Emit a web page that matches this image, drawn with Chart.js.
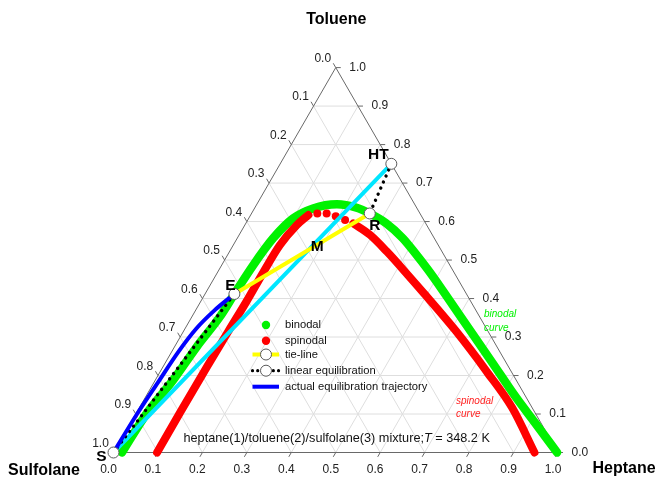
<!DOCTYPE html>
<html>
<head>
<meta charset="utf-8">
<script src="https://cdn.jsdelivr.net/npm/chart.js@4.4.0/dist/chart.umd.min.js"></script>
<style>
  html, body { margin: 0; padding: 0; background: #ffffff; }
  canvas { display: block; }
</style>
</head>
<body>
<canvas id="c" width="655" height="479"></canvas>
<script>
// Compositions are [x1 heptane, x2 toluene]; sulfolane x3 = 1 - x1 - x2.
const binodal = [
  [0.019, 0.000], [0.024, 0.102], [0.040, 0.188], [0.050, 0.275], [0.063, 0.353],
  [0.066, 0.412], [0.071, 0.487], [0.081, 0.557], [0.100, 0.608], [0.132, 0.634],
  [0.180, 0.645], [0.229, 0.636], [0.266, 0.621], [0.315, 0.596], [0.372, 0.557],
  [0.422, 0.516], [0.471, 0.474], [0.529, 0.422], [0.623, 0.336], [0.736, 0.233],
  [0.833, 0.144], [0.910, 0.077], [0.998, 0.000]
];
const spinodalLeft = [
  [0.098, 0.000], [0.098, 0.103], [0.099, 0.222], [0.101, 0.318], [0.103, 0.392],
  [0.103, 0.470], [0.105, 0.539], [0.117, 0.591], [0.130, 0.617]
];
const spinodalTop = [[0.148, 0.621], [0.169, 0.621], [0.193, 0.614], [0.219, 0.604]];
const spinodalRight = [
  [0.242, 0.595], [0.295, 0.565], [0.354, 0.522], [0.432, 0.461], [0.491, 0.414],
  [0.612, 0.316], [0.736, 0.209], [0.839, 0.116], [0.947, 0.000]
];
const trajectory = [
  [0.000, 0.000], [0.003, 0.100], [0.009, 0.183], [0.015, 0.261], [0.025, 0.321],
  [0.042, 0.368], [0.066, 0.412]
];
const pointS = [0.000, 0.000];
const pointE = [0.066, 0.412];
const pointM = [0.186, 0.527];
const pointR = [0.266, 0.621];
const pointHT = [0.250, 0.750];
const tickValues = [0, 0.1, 0.2, 0.3, 0.4, 0.5, 0.6, 0.7, 0.8, 0.9, 1.0];
const tickLabels = ['0.0', '0.1', '0.2', '0.3', '0.4', '0.5', '0.6', '0.7', '0.8', '0.9', '1.0'];
const componentNames = ['Heptane', 'Toluene', 'Sulfolane'];
const legendLabels = ['binodal', 'spinodal', 'tie-line', 'linear equilibration', 'actual equilibration trajectory'];

const H = Math.sqrt(3) / 2;
const toXY = p => ({ x: p[0] + p[1] / 2, y: p[1] * H });
const pts = arr => arr.map(toXY);
const GAP = () => ({ x: null, y: null });

// triangle grid: lines of constant toluene, heptane and sulfolane
const gridData = [];
for (let i = 1; i < 10; i++) {
  const v = tickValues[i];
  gridData.push(toXY([0, v]), toXY([1 - v, v]), GAP());
  gridData.push(toXY([v, 0]), toXY([v, 1 - v]), GAP());
  gridData.push(toXY([0, 1 - v]), toXY([1 - v, 0]), GAP());
}
const frameData = pts([[0, 0], [1, 0], [0, 1], [0, 0]]);

// tick marks, each drawn along its own grid direction outward
const TL = 5 / 444.5;
const tickData = [];
tickValues.forEach(v => {
  const l = toXY([0, 1 - v]);   // sulfolane axis
  tickData.push(l, { x: l.x - TL * 0.5, y: l.y + TL * H }, GAP());
  const r = toXY([1 - v, v]);   // toluene axis
  tickData.push(r, { x: r.x + TL, y: r.y }, GAP());
  const b = toXY([v, 0]);       // heptane axis
  tickData.push(b, { x: b.x - TL * 0.5, y: b.y - TL * H }, GAP());
});

const GREEN = 'rgb(0,242,0)';
const RED = 'rgb(255,0,0)';
const CYAN = 'rgb(0,230,255)';
const YELLOW = 'rgb(255,255,0)';
const BLUE = 'rgb(0,0,255)';

const lineDs = (label, data, color, width, order, extra) => Object.assign({
  label, data, showLine: true, borderColor: color, backgroundColor: color,
  borderWidth: width, pointRadius: 0, tension: 0, clip: false, order, fill: false,
  spanGaps: false, borderCapStyle: 'round', borderJoinStyle: 'round'
}, extra || {});
const smooth = { cubicInterpolationMode: 'monotone' };

const datasets = [
  lineDs('grid', gridData, 'rgb(222,222,222)', 1, 20, { borderCapStyle: 'butt' }),
  lineDs('frame', frameData, 'rgb(105,105,105)', 1, 19, { borderCapStyle: 'butt' }),
  lineDs('ticks', tickData, 'rgb(105,105,105)', 1, 19, { borderCapStyle: 'butt' }),
  lineDs('binodal', pts(binodal), GREEN, 8.5, 12, smooth),
  lineDs('spinodal', pts(spinodalLeft), RED, 8, 11, smooth),
  lineDs('spinodal ', pts(spinodalRight), RED, 8, 11, smooth),
  { label: 'spinodal points', data: pts(spinodalTop), showLine: false, pointRadius: 4,
    pointBorderWidth: 0, borderColor: RED, backgroundColor: RED, pointBackgroundColor: RED,
    clip: false, order: 11 },
  lineDs('mixing line', pts([pointS, pointHT]), CYAN, 4, 9),
  lineDs('tie-line', pts([pointE, pointR]), YELLOW, 4, 8),
  lineDs('linear equilibration', pts([pointS, pointE]), '#000', 3.4, 7, { borderDash: [0.01, 6.6] }),
  lineDs('linear equilibration ', pts([pointHT, pointR]), '#000', 3.4, 7, { borderDash: [0.01, 6.6] }),
  lineDs('actual equilibration trajectory', pts(trajectory), BLUE, 4, 6, smooth),
  { label: 'states', data: pts([pointS, pointE, pointR, pointHT]), showLine: false,
    pointRadius: 5.5, pointBackgroundColor: '#fff', pointBorderColor: 'rgb(90,90,90)',
    pointBorderWidth: 1, clip: false, order: 2 }
];

const FONT = '"Liberation Sans", Arial, sans-serif';

const decorations = {
  id: 'decorations',
  afterDatasetsDraw(chart) {
    const ctx = chart.ctx;
    const xs = chart.scales.x, ys = chart.scales.y;
    const pix = p => { const c = toXY(p); return [xs.getPixelForValue(c.x), ys.getPixelForValue(c.y)]; };
    ctx.save();

    // axis tick labels
    ctx.font = '12px ' + FONT;
    ctx.fillStyle = '#222';
    ctx.textBaseline = 'middle';
    tickValues.forEach((v, i) => {
      let [x, y] = pix([0, 1 - v]);
      ctx.textAlign = 'center';
      ctx.fillText(tickLabels[i], x - 13, y - 9.3);
      [x, y] = pix([1 - v, v]);
      ctx.textAlign = 'left';
      ctx.fillText(tickLabels[i], x + 13.5, y);
      [x, y] = pix([v, 0]);
      ctx.textAlign = 'center';
      ctx.fillText(tickLabels[i], x - 5, y + 17.5);
    });

    // component names at the corners
    ctx.font = 'bold 16px ' + FONT;
    ctx.fillStyle = '#000';
    ctx.textAlign = 'center';
    let [tx, ty] = pix([0, 1]);
    ctx.fillText(componentNames[1], tx + 0.5, ty - 48.5);
    [tx, ty] = pix([0, 0]);
    ctx.fillText(componentNames[2], tx - 69.5, ty + 18);
    [tx, ty] = pix([1, 0]);
    ctx.fillText(componentNames[0], tx + 66, ty + 16);

    // state point names
    ctx.font = 'bold 15.5px ' + FONT;
    const names = [['HT', pointHT, -13, -9.5], ['R', pointR, 5, 12], ['M', pointM, 4, -3],
                   ['E', pointE, -4, -8.5], ['S', pointS, -12, 4.5]];
    names.forEach(([t, p, dx, dy]) => {
      const [x, y] = pix(p);
      ctx.fillText(t, x + dx, y + dy);
    });

    // curve captions
    ctx.font = 'italic 10px ' + FONT;
    ctx.textAlign = 'left';
    ctx.fillStyle = GREEN;
    ctx.fillText('binodal', 484, 314.5);
    ctx.fillText('curve', 484, 328);
    ctx.fillStyle = 'rgb(255,30,30)';
    ctx.fillText('spinodal', 456, 401.5);
    ctx.fillText('curve', 456, 414.5);

    // mixture caption
    const CF = '12.7px ' + FONT, CFI = 'italic 12.7px ' + FONT;
    ctx.fillStyle = '#111';
    ctx.font = CF;
    const part1 = 'heptane(1)/toluene(2)/sulfolane(3) mixture;';
    const part3 = ' = 348.2 K';
    const w1 = ctx.measureText(part1).width;
    const w3 = ctx.measureText(part3).width;
    ctx.font = CFI;
    const w2 = ctx.measureText('T').width;
    const cx = 336.7 - (w1 + w2 + w3) / 2;
    ctx.font = CF;
    ctx.fillText(part1, cx, 438.5);
    ctx.font = CFI;
    ctx.fillText('T', cx + w1, 438.5);
    ctx.font = CF;
    ctx.fillText(part3, cx + w1 + w2, 438.5);

    // legend
    const lx0 = 252.5, lx1 = 279, mx = 266, textX = 285;
    const rows = [325, 340.7, 354.5, 370.7, 386.7];
    [[GREEN, rows[0]], [RED, rows[1]]].forEach(([c, y]) => {
      ctx.fillStyle = c;
      ctx.beginPath(); ctx.arc(mx, y, 4.2, 0, Math.PI * 2); ctx.fill();
    });
    ctx.strokeStyle = YELLOW; ctx.lineWidth = 4; ctx.lineCap = 'butt';
    ctx.beginPath(); ctx.moveTo(lx0, rows[2]); ctx.lineTo(lx1, rows[2]); ctx.stroke();
    ctx.strokeStyle = '#000'; ctx.lineWidth = 3.2; ctx.lineCap = 'round';
    ctx.setLineDash([0.01, 5.2]);
    ctx.beginPath(); ctx.moveTo(lx0, rows[3]); ctx.lineTo(lx1, rows[3]); ctx.stroke();
    ctx.setLineDash([]);
    ctx.strokeStyle = BLUE; ctx.lineWidth = 4; ctx.lineCap = 'butt';
    ctx.beginPath(); ctx.moveTo(lx0, rows[4]); ctx.lineTo(lx1, rows[4]); ctx.stroke();
    [rows[2], rows[3]].forEach(y => {
      ctx.fillStyle = '#fff'; ctx.strokeStyle = 'rgb(90,90,90)'; ctx.lineWidth = 1;
      ctx.beginPath(); ctx.arc(mx, y, 5.5, 0, Math.PI * 2); ctx.fill(); ctx.stroke();
    });
    ctx.font = '11.2px ' + FONT;
    ctx.fillStyle = '#111';
    ctx.textAlign = 'left';
    legendLabels.forEach((t, i) => ctx.fillText(t, textX, rows[i]));

    ctx.restore();
  }
};

new Chart(document.getElementById('c'), {
  type: 'line',
  data: { datasets },
  options: {
    responsive: false,
    devicePixelRatio: 1,
    animation: false,
    events: [],
    layout: { padding: { left: 113.5, right: 97, top: 67.6, bottom: 26.5 } },
    scales: {
      x: { type: 'linear', min: 0, max: 1, display: false },
      y: { type: 'linear', min: 0, max: H, display: false }
    },
    plugins: { legend: { display: false }, tooltip: { enabled: false } }
  },
  plugins: [decorations]
});
</script>
</body>
</html>
